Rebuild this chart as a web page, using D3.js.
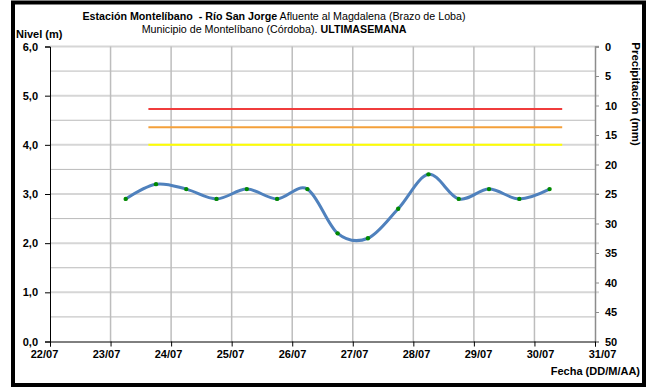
<!DOCTYPE html>
<html>
<head>
<meta charset="utf-8">
<script src="https://cdn.jsdelivr.net/npm/d3@7"></script>
<style>
  body { margin: 0; background: #fff; }
  svg { display: block; font-family: 'Liberation Sans', Arial, sans-serif; }
</style>
</head>
<body>
<svg width="651" height="388"></svg>
<script>
// datos (nivel cada 12 horas)
const fechas = ['23/07 06:00', '23/07 18:00', '24/07 06:00', '24/07 18:00', '25/07 06:00',
  '25/07 18:00', '26/07 06:00', '26/07 18:00', '27/07 06:00', '27/07 18:00',
  '28/07 06:00', '28/07 18:00', '29/07 06:00', '29/07 18:00', '30/07 06:00'];
const nivel = [2.9, 3.2, 3.1, 2.9, 3.1, 2.9, 3.1, 2.2, 2.1, 2.7, 3.4, 2.9, 3.1, 2.9, 3.1];

const diasEje = ['22/07', '23/07', '24/07', '25/07', '26/07', '27/07', '28/07', '29/07', '30/07', '31/07'];
const nivelTicks = [0, 1, 2, 3, 4, 5, 6];
const precTicks = [0, 5, 10, 15, 20, 25, 30, 35, 40, 45, 50];

// umbrales (rojo, naranja, amarillo)
const umbrales = [4.73, 4.36, 4.0];
const umbralInicio = '23/07 15:00';
const umbralFin = '30/07 11:00';

const parse = d3.utcParse('%d/%m %H:%M');
const parseDia = d3.utcParse('%d/%m');

const svg = d3.select('svg');
const mLeft = 50, mRight = 595, mTop = 46.5, mBottom = 341.5;

const x = d3.scaleUtc()
  .domain([parseDia(diasEje[0]), parseDia(diasEje[diasEje.length - 1])])
  .range([mLeft, mRight]);
// las etiquetas de fecha de Excel quedan un poco mas abiertas que las lineas
const xLabel = x.copy().range([44, 602]);
const y = d3.scaleLinear().domain([0, 6]).range([mBottom, mTop]);
const yPrec = d3.scaleLinear().domain([0, 50]).range([mTop, mBottom]);

// marco
svg.append('rect')
  .attr('x', 13).attr('y', 2.5).attr('width', 631).attr('height', 382.5)
  .attr('fill', '#fff').attr('stroke', '#000').attr('stroke-width', 4);

// rejilla horizontal
const medios = d3.range(0.5, 6, 1);
svg.append('g').selectAll('line').data(medios).enter().append('line')
  .attr('x1', mLeft).attr('x2', mRight)
  .attr('y1', d => y(d)).attr('y2', d => y(d))
  .attr('stroke', '#bababa').attr('stroke-width', 1);
svg.append('g').selectAll('line').data(nivelTicks.slice(1)).enter().append('line')
  .attr('x1', mLeft).attr('x2', mRight + 4)
  .attr('y1', d => y(d)).attr('y2', d => y(d))
  .attr('stroke', '#d6d6d6').attr('stroke-width', 2);

// rejilla vertical
svg.append('g').selectAll('line').data(diasEje.slice(1, -1).map(parseDia)).enter().append('line')
  .attr('x1', d => x(d)).attr('x2', d => x(d))
  .attr('y1', mTop).attr('y2', mBottom)
  .attr('stroke', '#bdbdbd').attr('stroke-width', 1.5);

// umbrales
const colores = ['#f03c3c', '#f4a03a', '#ffff00'];
svg.append('g').selectAll('line').data(umbrales).enter().append('line')
  .attr('x1', x(parse(umbralInicio))).attr('x2', x(parse(umbralFin)))
  .attr('y1', d => y(d)).attr('y2', d => y(d))
  .attr('stroke', (d, i) => colores[i]).attr('stroke-width', 2);

// eje derecho (precipitacion)
const gR = svg.append('g').attr('transform', `translate(${mRight},0)`)
  .call(d3.axisRight(yPrec).tickValues(precTicks).tickSize(4).tickPadding(6));
gR.select('.domain').attr('stroke', '#8c8c8c').attr('stroke-width', 1.5);
gR.selectAll('.tick line').attr('stroke', '#8c8c8c');
gR.selectAll('.tick text').attr('font-size', 11).attr('font-weight', 'bold').attr('fill', '#000')
  .attr('font-family', 'Liberation Sans, Arial, sans-serif');

// eje izquierdo
const gL = svg.append('g').attr('transform', `translate(${mLeft},0)`)
  .call(d3.axisLeft(y).tickValues(nivelTicks).tickSize(5).tickPadding(7)
    .tickFormat(d => d3.format('.1f')(d).replace('.', ',')));
gL.select('.domain').attr('stroke', '#000');
gL.selectAll('.tick text').attr('font-size', 11).attr('font-weight', 'bold')
  .attr('font-family', 'Liberation Sans, Arial, sans-serif');

// eje inferior
const gB = svg.append('g').attr('transform', `translate(0,${mBottom})`)
  .call(d3.axisBottom(x).tickValues(diasEje.map(parseDia)).tickSize(5)
    .tickFormat(d3.utcFormat('%d/%m')));
gB.select('.domain').attr('stroke', '#000');
gB.selectAll('.tick text').attr('font-size', 11).attr('font-weight', 'bold')
  .attr('font-family', 'Liberation Sans, Arial, sans-serif')
  .attr('y', 9)
  .attr('transform', d => `translate(${xLabel(d) - x(d)},0)`);

// serie de nivel
const datos = fechas.map((f, i) => ({ t: parse(f), v: nivel[i] }));
const linea = d3.line()
  .x(d => x(d.t)).y(d => y(d.v))
  .curve(d3.curveCardinal.tension(0));
svg.append('path').datum(datos)
  .attr('d', linea)
  .attr('fill', 'none').attr('stroke', '#4f81bd').attr('stroke-width', 3);
svg.append('g').selectAll('circle').data(datos).enter().append('circle')
  .attr('cx', d => x(d.t)).attr('cy', d => y(d.v)).attr('r', 2.2)
  .attr('fill', '#008a00');

// titulos
const titulo = svg.append('text').attr('x', 274).attr('y', 20)
  .attr('text-anchor', 'middle').attr('font-size', 10.7);
titulo.append('tspan').attr('font-weight', 'bold').text('Estación Montelíbano\u00a0 - Río San Jorge');
titulo.append('tspan').text(' Afluente al Magdalena (Brazo de Loba)');

const titulo2 = svg.append('text').attr('x', 274).attr('y', 33)
  .attr('text-anchor', 'middle').attr('font-size', 10.7);
titulo2.append('tspan').text('Municipio de Montelíbano (Córdoba). ');
titulo2.append('tspan').attr('font-weight', 'bold').text('ULTIMASEMANA');

svg.append('text').attr('x', 16).attr('y', 38)
  .attr('font-size', 11).attr('font-weight', 'bold').text('Nivel (m)');

svg.append('text').attr('x', 640).attr('y', 375).attr('text-anchor', 'end')
  .attr('font-size', 11).attr('font-weight', 'bold').text('Fecha (DD/M/AA)');

svg.append('text')
  .attr('transform', 'translate(632,94) rotate(90)')
  .attr('text-anchor', 'middle')
  .attr('font-size', 11.5).attr('font-weight', 'bold').text('Precipitación (mm)');
</script>
</body>
</html>
